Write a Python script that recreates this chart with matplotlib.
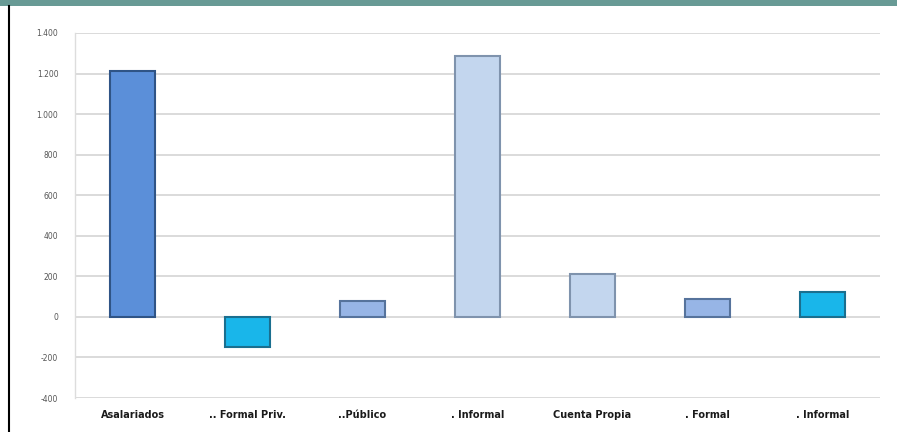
import matplotlib
matplotlib.use("Agg")
import matplotlib.pyplot as plt
from matplotlib.patches import Rectangle
from matplotlib.lines import Line2D

categories = ["Asalariados", ".. Formal Priv.", "..Público", ". Informal",
              "Cuenta Propia", ". Formal", ". Informal"]
values = [1215, -150, 80, 1285, 210, 90, 125]
bar_colors = ["#5b8fd9", "#19b6ea", "#97b5e6", "#c3d6ee", "#c3d6ee", "#97b5e6", "#19b6ea"]
edge_colors = ["#2f5486", "#1a6f8f", "#56739c", "#7f93ad", "#7f93ad", "#56739c", "#1a6f8f"]
y_ticks = [-400, -200, 0, 200, 400, 600, 800, 1000, 1200, 1400]
y_tick_labels = ["-400", "-200", "0", "200", "400", "600", "800", "1.000", "1.200", "1.400"]

fig = plt.figure(figsize=(8.97, 4.32), dpi=100)
fig.patch.set_facecolor("white")

# Top teal band and left black border
fig.add_artist(Rectangle((0, 1 - 6/432), 1, 6/432, transform=fig.transFigure,
                         facecolor="#689a95", edgecolor="none"))
fig.add_artist(Line2D([8.5/897, 8.5/897], [0, 1 - 6/432], transform=fig.transFigure,
                      color="black", linewidth=1.5))

ax = fig.add_axes([75/897, (432-398)/432, (880-75)/897, (398-33)/432])
x = range(len(categories))
ax.bar(x, values, width=0.39, color=bar_colors, edgecolor=edge_colors,
       linewidth=1.5, zorder=3)

ax.set_ylim(-400, 1400)
ax.set_xlim(-0.5, len(categories) - 0.5)
ax.set_yticks(y_ticks)
ax.set_yticklabels(y_tick_labels, fontsize=5.5, color="#555555")
ax.set_xticks(list(x))
ax.set_xticklabels(categories, fontsize=7, fontweight="bold", color="#1a1a1a")
ax.tick_params(axis="both", length=0)
ax.tick_params(axis="y", pad=12)
ax.tick_params(axis="x", pad=9)

for yv in y_ticks:
    ax.axhline(yv, color="#d4d4d4", linewidth=1.2, zorder=1)

for s in ["top", "right", "bottom"]:
    ax.spines[s].set_visible(False)
ax.spines["left"].set_color("#dddddd")
ax.spines["left"].set_linewidth(1.0)

fig.savefig("out.png", dpi=100)
